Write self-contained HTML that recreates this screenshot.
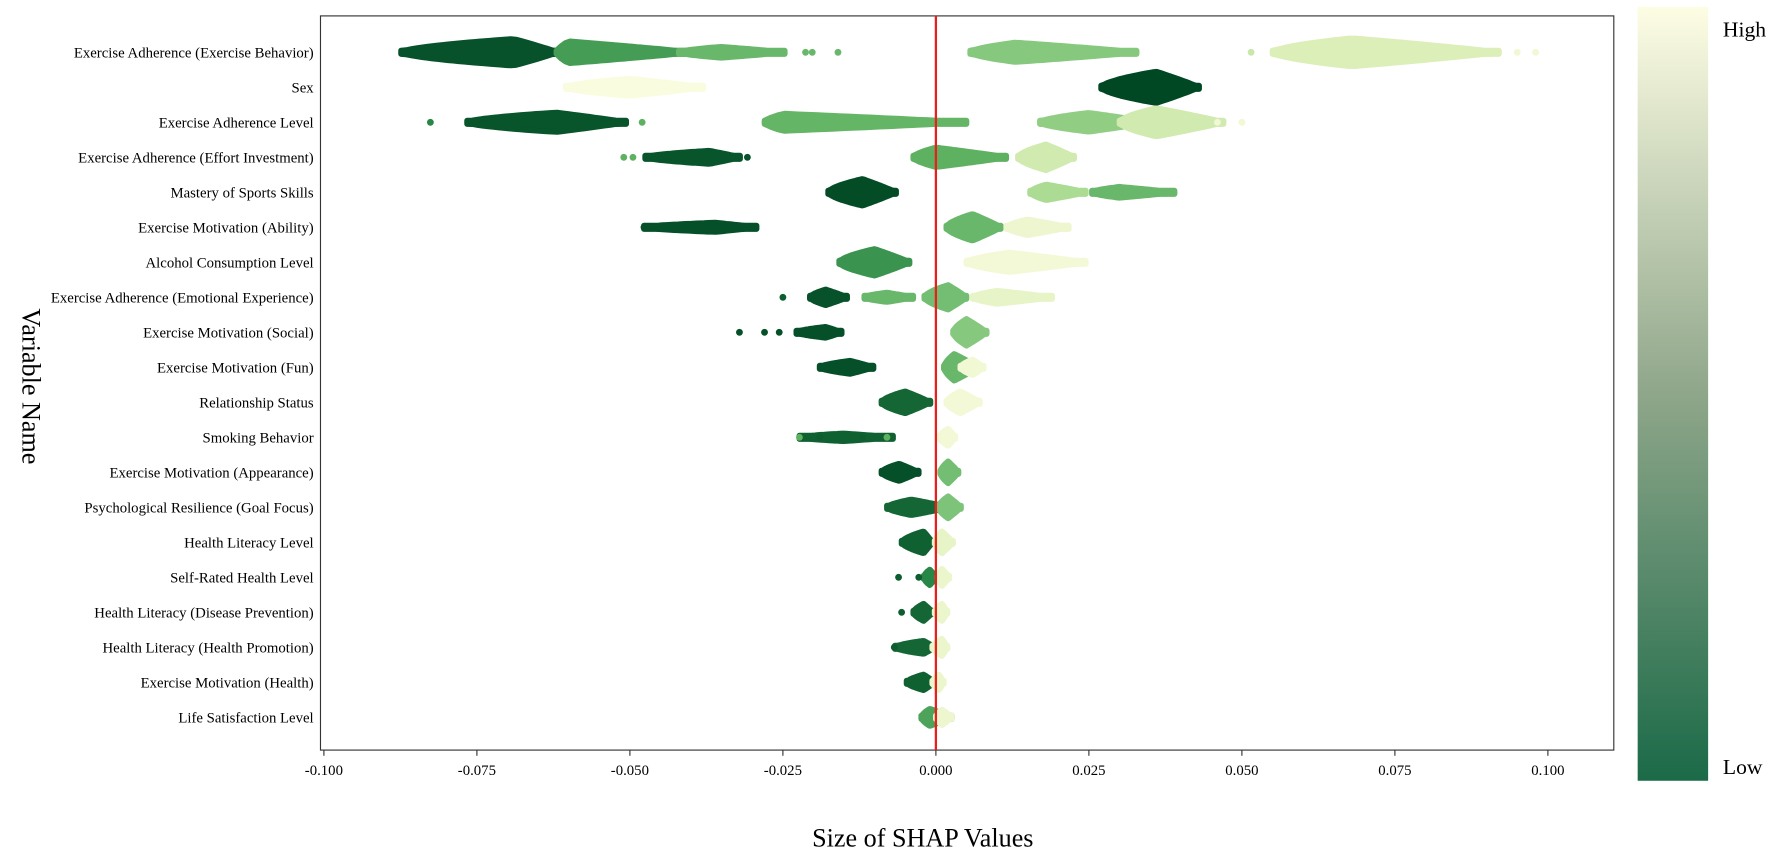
<!DOCTYPE html>
<html><head><meta charset="utf-8"><style>
html,body{margin:0;padding:0;background:#fff;overflow:hidden;width:1782px;height:851px;}
svg{display:block;font-family:"Liberation Serif",serif;}
</style></head><body>
<svg id="chart" width="1782" height="851" viewBox="0 0 1568 748.8" preserveAspectRatio="none">
<defs>
<linearGradient id="cbar" x1="0" y1="1" x2="0" y2="0">
<stop offset="0" stop-color="#1b6a48"/><stop offset="0.5" stop-color="#8fa68a"/><stop offset="1" stop-color="#fdfde4"/>
</linearGradient>
</defs>
<rect x="282" y="14" width="1138" height="646" fill="#fff" stroke="#333" stroke-width="1"/>
<g id="marks"></g>
<g id="yaxis"></g>
<g id="xaxis"></g>
<text x="812" y="745" font-size="23" text-anchor="middle">Size of SHAP Values</text>
<text transform="translate(20,340) rotate(90)" font-size="23" text-anchor="middle">Variable Name</text>
<rect x="1441" y="6" width="62" height="681" fill="url(#cbar)"/>
<text x="1516" y="32" font-size="19">High</text>
<text x="1516" y="681" font-size="19">Low</text>
</svg>
<script>
const features = ["Exercise Adherence (Exercise Behavior)","Sex","Exercise Adherence Level","Exercise Adherence (Effort Investment)","Mastery of Sports Skills","Exercise Motivation (Ability)","Alcohol Consumption Level","Exercise Adherence (Emotional Experience)","Exercise Motivation (Social)","Exercise Motivation (Fun)","Relationship Status","Smoking Behavior","Exercise Motivation (Appearance)","Psychological Resilience (Goal Focus)","Health Literacy Level","Self-Rated Health Level","Health Literacy (Disease Prevention)","Health Literacy (Health Promotion)","Exercise Motivation (Health)","Life Satisfaction Level"];
const xTicks = [-0.1,-0.075,-0.05,-0.025,0,0.025,0.05,0.075,0.1];
const xTickLabels = ["-0.100","-0.075","-0.050","-0.025","0.000","0.025","0.050","0.075","0.100"];
// clusters: [row, lo, peak, hi, density(0..1), featureValue(0..1)]
const clusters = [
[0,-0.0874,-0.069,-0.0618,0.85,0.05],[0,-0.062,-0.060,-0.040,0.7,0.38],[0,-0.042,-0.035,-0.0247,0.35,0.5],[0,0.0056,0.013,0.0328,0.62,0.62],[0,0.055,0.068,0.092,0.9,0.85],
[1,-0.0605,-0.050,-0.038,0.55,0.99],[1,0.027,0.036,0.043,1.0,0.0],
[2,-0.0766,-0.062,-0.0506,0.62,0.06],[2,-0.028,-0.025,0.005,0.55,0.48],[2,0.017,0.025,0.035,0.6,0.65],[2,0.030,0.036,0.047,0.9,0.82],
[3,-0.0475,-0.037,-0.032,0.42,0.06],[3,-0.0037,0.0,0.0115,0.62,0.45],[3,0.0134,0.018,0.0226,0.82,0.82],
[4,-0.0176,-0.012,-0.0065,0.85,0.02],[4,0.0154,0.018,0.0245,0.5,0.72],[4,0.0255,0.030,0.039,0.35,0.5],
[5,-0.0477,-0.036,-0.0293,0.3,0.04],[5,0.0017,0.006,0.0106,0.85,0.5],[5,0.0115,0.015,0.0217,0.5,0.93],
[6,-0.0158,-0.010,-0.0043,0.85,0.35],[6,0.005,0.012,0.0245,0.62,0.96],
[7,-0.0206,-0.018,-0.0145,0.5,0.05],[7,-0.0117,-0.008,-0.0037,0.3,0.5],[7,-0.0019,0.002,0.005,0.78,0.55],[7,0.006,0.010,0.019,0.42,0.9],
[8,-0.0228,-0.018,-0.0154,0.35,0.04],[8,0.0028,0.005,0.0083,0.85,0.62],
[9,-0.019,-0.014,-0.0102,0.42,0.04],[9,0.0013,0.003,0.0069,0.85,0.5],[9,0.004,0.006,0.0078,0.5,0.95],
[10,-0.0089,-0.005,-0.0009,0.7,0.15],[10,0.0017,0.004,0.0072,0.7,0.96],
[11,-0.0223,-0.015,-0.007,0.25,0.12],[11,0.0005,0.002,0.0032,0.55,0.96],
[12,-0.0089,-0.006,-0.0028,0.55,0.04],[12,0.0007,0.002,0.0037,0.7,0.55],
[13,-0.008,-0.004,0.0022,0.5,0.15],[13,0.0004,0.002,0.0041,0.7,0.6],
[14,-0.0056,-0.002,-0.0006,0.7,0.12],[14,-0.0002,0.001,0.0028,0.7,0.9],
[15,-0.002,-0.001,0.0001,0.5,0.3],[15,0.0003,0.001,0.0022,0.55,0.92],
[16,-0.0037,-0.002,-0.0005,0.55,0.15],[16,-0.0002,0.001,0.0019,0.55,0.92],
[17,-0.0067,-0.002,-0.0002,0.42,0.15],[17,-0.0006,0.001,0.0019,0.55,0.92],
[18,-0.0048,-0.002,-0.0002,0.5,0.12],[18,-0.0006,0.0005,0.0013,0.5,0.92],
[19,-0.0024,-0.001,0.0026,0.55,0.4],[19,0.0,0.001,0.0026,0.5,0.93]
];
// outliers: [row, value, featureValue]
const outliers = [
[0,-0.0213,0.5],[0,-0.0202,0.5],[0,-0.016,0.5],[0,0.095,0.95],[0,0.098,0.95],[0,0.0515,0.8],
[2,-0.0826,0.3],[2,-0.048,0.45],[2,0.05,0.95],[2,0.046,0.95],
[3,-0.051,0.45],[3,-0.0495,0.45],[3,-0.0308,0.05],
[5,-0.0477,0.04],
[7,-0.025,0.1],
[8,-0.0321,0.04],[8,-0.028,0.04],[8,-0.0256,0.04],
[11,-0.0223,0.45],[11,-0.019,0.1],[11,-0.012,0.1],[11,-0.008,0.45],
[15,-0.0061,0.1],[15,-0.0028,0.1],
[16,-0.0056,0.1],
[17,-0.0068,0.1]
];
const plotTop=14, plotBottom=660, rowStart=46, rowStep=30.8;
function xScale(v){return 285+(v+0.1)/0.2*(1362-285);}
function yRow(i){return rowStart+i*rowStep;}
const cstops=[[0,[0,72,36]],[0.3,[40,134,70]],[0.45,[95,177,98]],[0.6,[125,196,122]],[0.7,[165,216,142]],[0.85,[220,239,185]],[1,[252,253,226]]];
function color(t){for(let i=1;i<cstops.length;i++){if(t<=cstops[i][0]){const a=cstops[i-1],b=cstops[i];const f=(t-a[0])/(b[0]-a[0]);const c=a[1].map((v,k)=>Math.round(v+(b[1][k]-v)*f));return `rgb(${c})`;}}return 'rgb(252,253,226)';}
const NS="http://www.w3.org/2000/svg";
const marks=document.getElementById('marks');
clusters.forEach(c=>{
  const [r,lo,pk,hi,d,fv]=c;
  const x0=xScale(lo),xp=xScale(pk),x1=xScale(hi),yc=yRow(r),H=d*rowStep*0.45;
  const top=[],bot=[];const N=30;
  for(let i=0;i<=N;i++){const x=x0+(x1-x0)*i/N;let h;
    if(x<=xp){const t=(x-x0)/Math.max(xp-x0,0.01);h=H*Math.pow(Math.max(t,0),0.6);}
    else{const t=(x1-x)/Math.max(x1-xp,0.01);h=H*Math.pow(Math.max(t,0),0.9);}
    h=Math.max(h,1.5);top.push([x,yc-h]);bot.unshift([x,yc+h]);}
  const p=document.createElementNS(NS,'polygon');
  p.setAttribute('points',top.concat(bot).map(q=>q[0].toFixed(1)+','+q[1].toFixed(1)).join(' '));
  p.setAttribute('fill',color(fv));p.setAttribute('stroke',color(fv));p.setAttribute('stroke-width','5');p.setAttribute('stroke-linejoin','round');
  
  
  marks.appendChild(p);
});
outliers.forEach(o=>{
  const c=document.createElementNS(NS,'circle');
  c.setAttribute('cx',xScale(o[1]));c.setAttribute('cy',yRow(o[0]));c.setAttribute('r','3');c.setAttribute('fill',color(o[2]));
  
  
  marks.appendChild(c);
});
const zl=document.createElementNS(NS,'line');
zl.setAttribute('x1',xScale(0));zl.setAttribute('x2',xScale(0));zl.setAttribute('y1',plotTop);zl.setAttribute('y2',plotBottom);
zl.setAttribute('stroke','#e8201c');zl.setAttribute('stroke-width','2');


marks.appendChild(zl);
const ya=document.getElementById('yaxis');
features.forEach((f,i)=>{
  const t=document.createElementNS(NS,'text');
  t.setAttribute('x',276);t.setAttribute('y',yRow(i)+4.5);t.setAttribute('text-anchor','end');t.setAttribute('font-size','13');
  t.textContent=f;
  
  
  ya.appendChild(t);
});
const xa=document.getElementById('xaxis');
xTicks.forEach((v,i)=>{
  const l=document.createElementNS(NS,'line');
  l.setAttribute('x1',xScale(v));l.setAttribute('x2',xScale(v));l.setAttribute('y1',plotBottom);l.setAttribute('y2',plotBottom+5);l.setAttribute('stroke','#333');
  
  
  xa.appendChild(l);
  const t=document.createElementNS(NS,'text');
  t.setAttribute('x',xScale(v));t.setAttribute('y',682);t.setAttribute('text-anchor','middle');t.setAttribute('font-size','13');
  t.textContent=xTickLabels[i];
  
  
  xa.appendChild(t);
});
</script>
</body></html>
